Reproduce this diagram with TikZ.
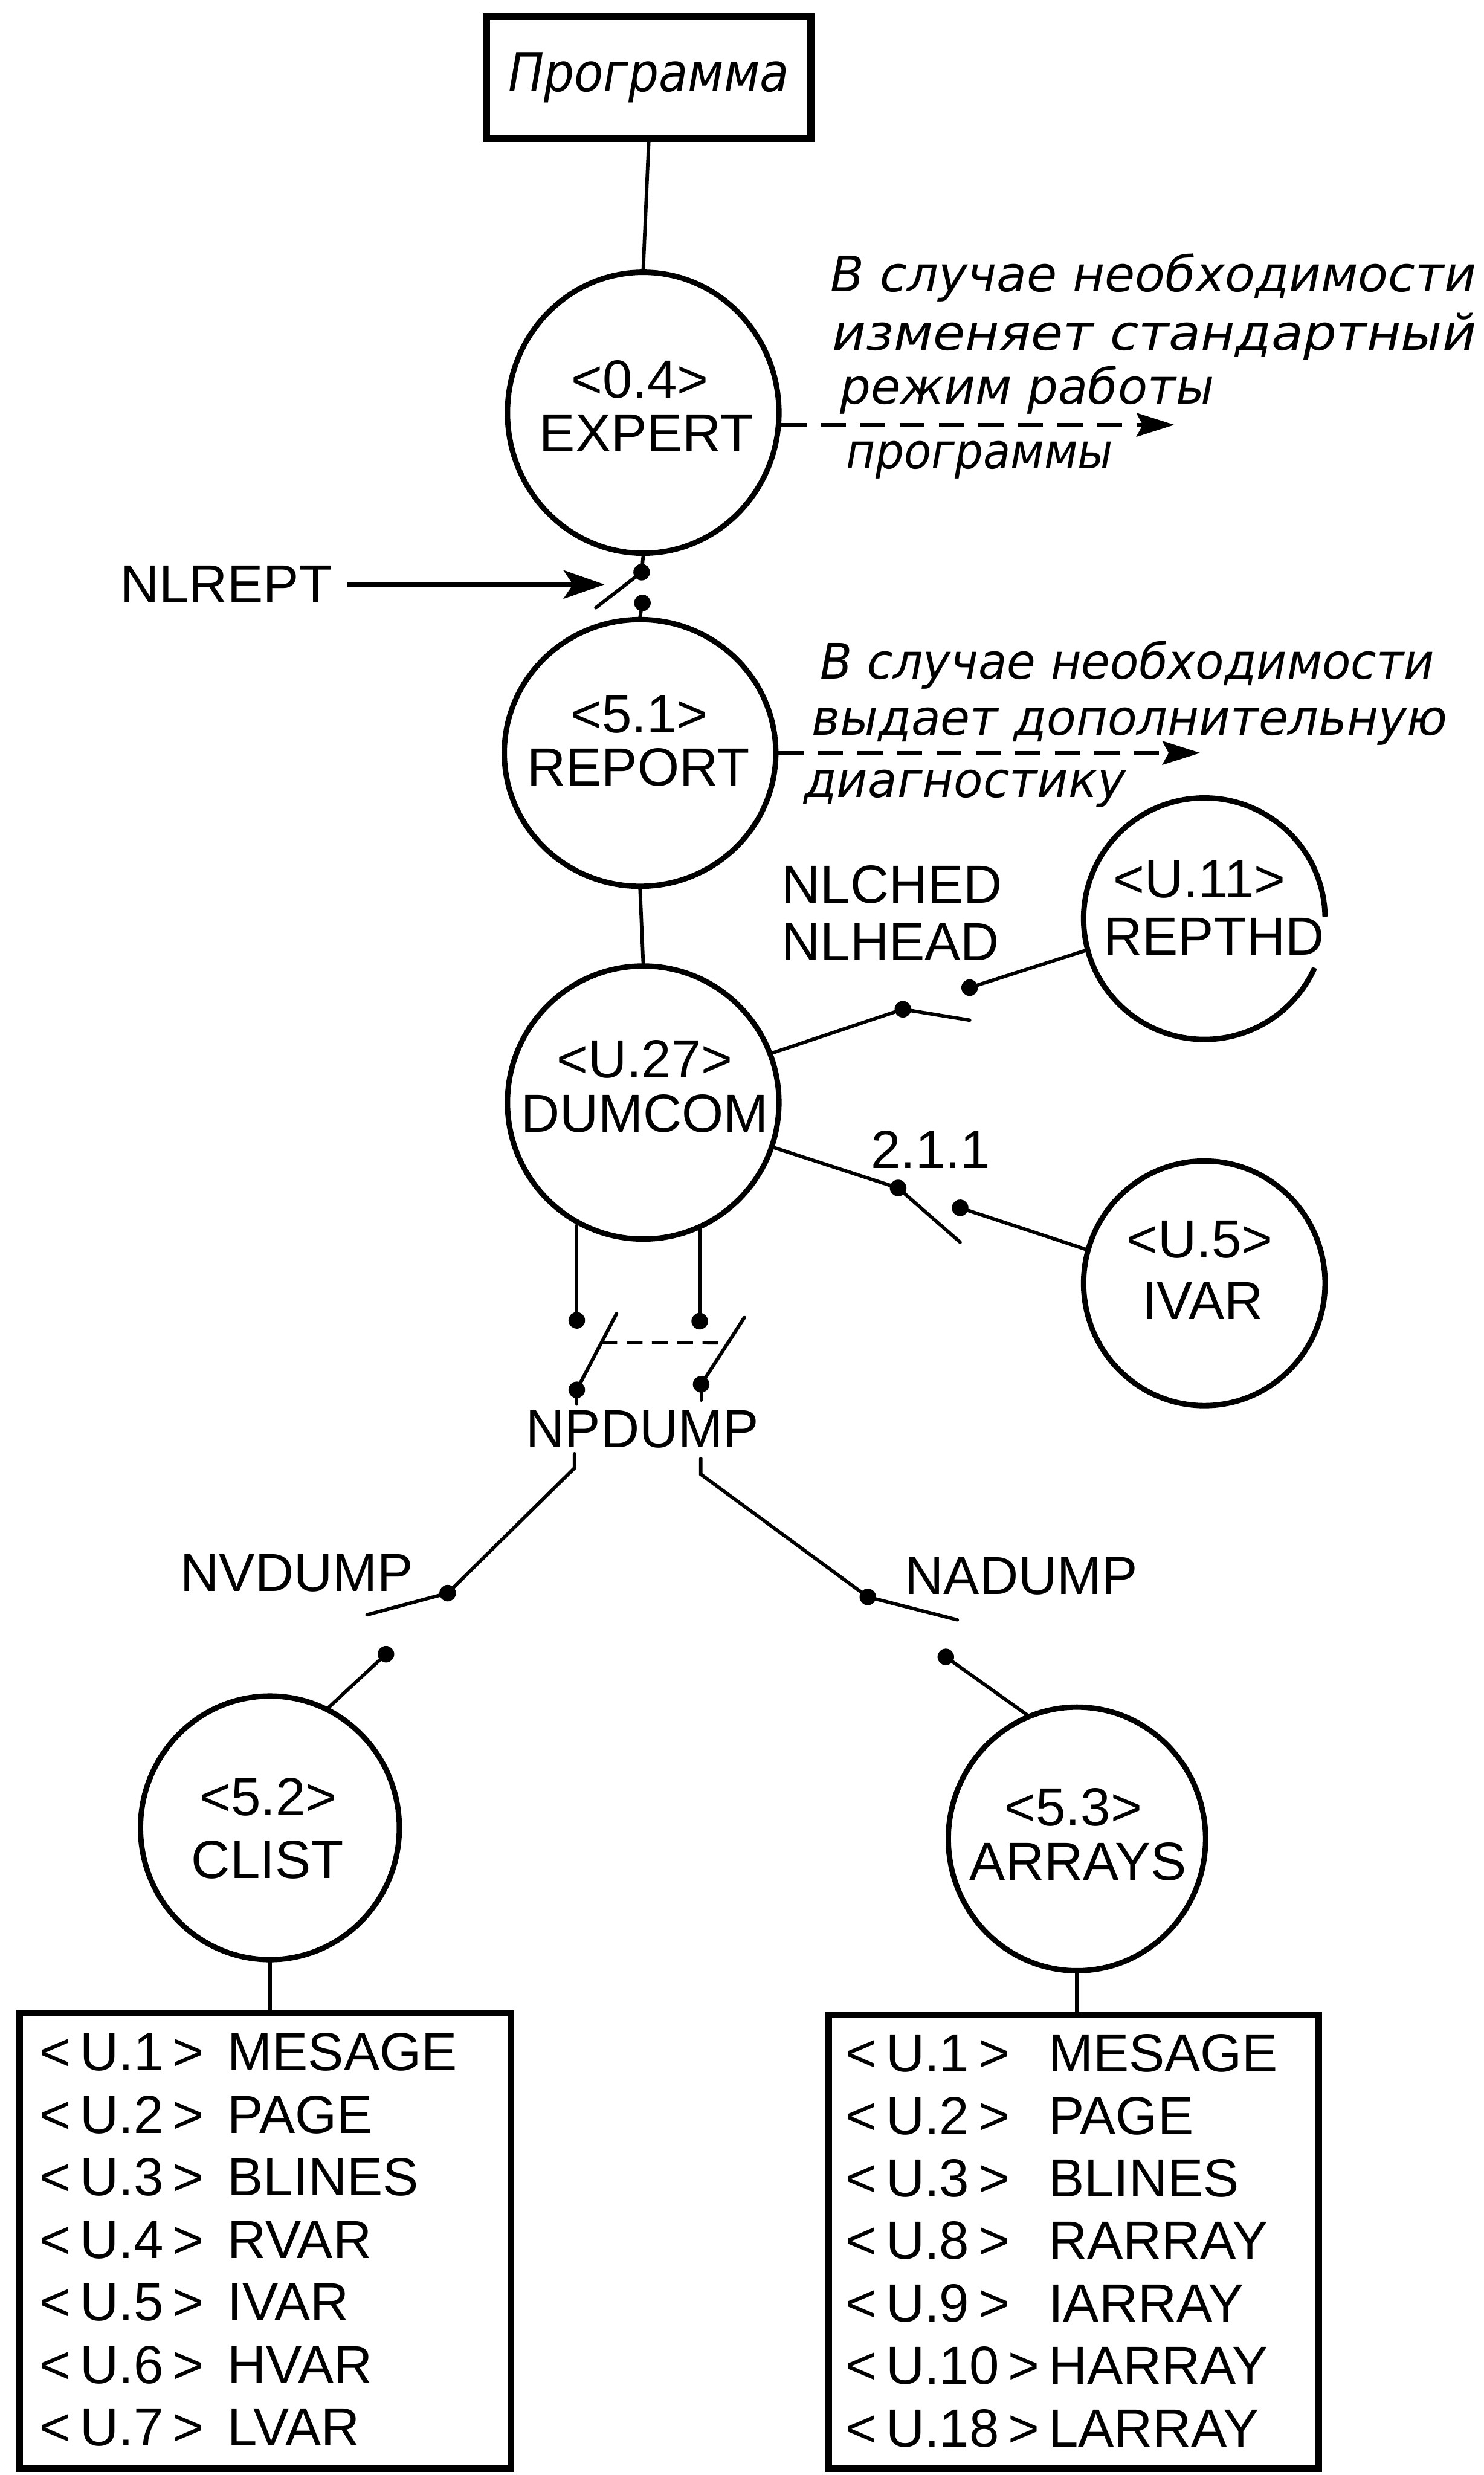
\documentclass[tikz,border=0pt]{standalone}
\usepackage{graphicx}
\usepackage{fontspec}
\setmainfont{Liberation Sans}
\newfontfamily\handfont{DejaVu Sans}
\usetikzlibrary{shapes.geometric,arrows.meta,calc}

\begin{document}
\begin{tikzpicture}[x=1pt,y=-1pt,
  wire/.style={line width=2.2pt, line cap=round},
  proc/.style={ellipse, draw, line width=3.4pt, inner sep=0pt},
  ring/.style={line width=3.4pt},
  frame/.style={rectangle, draw, line width=4pt, inner sep=0pt},
  dot/.style={circle, fill, inner sep=0pt, minimum size=10.5pt},
  lbl/.style={font=\fontsize{34}{40}\selectfont, inner sep=0pt},
  hand/.style={font=\handfont\itshape\fontsize{31}{36}\selectfont, inner sep=0pt, anchor=base west},
  darrow/.style={line width=2.2pt, dash pattern=on 16pt off 9pt, -{Stealth[length=24pt,width=15pt,inset=4pt]}},
  sarrow/.style={line width=2.6pt, -{Stealth[length=26pt,width=18pt,inset=6pt]}},
  gang/.style={line width=2pt, dash pattern=on 10pt off 6pt},
]
\fill[white] (0,0) rectangle (940,1568);
\useasboundingbox (0,0) rectangle (940,1568);

% ---------- main program box ----------
\node[frame, line width=4.5pt, minimum width=205.5pt, minimum height=77.5pt] (prog) at (411,49)
  {\handfont\itshape\fontsize{34}{40}\selectfont\resizebox{178pt}{\height}{Программа}};

% ---------- processes ----------
\node[proc, minimum width=172pt, minimum height=178pt] (expert) at (407.5,261.5) {};
\node[lbl, anchor=base] (expertid) at (405.3,252) {<0.4>};
\node[lbl, anchor=base] (expertnm) at (409.5,286) {EXPERT};

\node[proc, minimum width=172pt, minimum height=169pt] (report) at (405.5,477) {};
\node[lbl, anchor=base] (reportid) at (405,464) {<5.1>};
\node[lbl, anchor=base] (reportnm) at (404.5,498) {REPORT};

\node[proc, minimum width=172pt, minimum height=173pt] (dumcom) at (407.5,698.5) {};
\node[lbl, anchor=base] (dumcomid) at (408.4,682.6) {<U.27>};
\node[lbl, anchor=base] (dumcomnm) at (408.5,717) {DUMCOM};

% REPTHD: circle with a break on its right side
\node[ellipse, line width=3.4pt, inner sep=0pt, minimum width=153pt, minimum height=153pt] (repthd) at (763,582) {};
\draw[ring] ([shift={(1:76.5pt)}]repthd.center) arc[start angle=1, end angle=336, radius=76.5pt];
\node[lbl, anchor=base] (repthdid) at (760,568.5) {<U.11>};
\node[lbl, anchor=base] (repthdnm) at (769,605) {REPTHD};

\node[proc, minimum width=153pt, minimum height=155pt] (ivar) at (763,813) {};
\node[lbl, anchor=base] (ivarid) at (760,797) {<U.5>};
\node[lbl, anchor=base] (ivarnm) at (762,836) {IVAR};

\node[proc, minimum width=164pt, minimum height=167pt] (clist) at (171,1158) {};
\node[lbl, anchor=base] (clistid) at (170,1150) {<5.2>};
\node[lbl, anchor=base] (clistnm) at (169.5,1190) {CLIST};

\node[proc, minimum width=163pt, minimum height=167pt] (arrays) at (682.3,1165) {};
\node[lbl, anchor=base] (arraysid) at (680,1156.7) {<5.3>};
\node[lbl, anchor=base] (arraysnm) at (683,1191) {ARRAYS};

% ---------- program -> EXPERT ----------
\draw[wire] (prog.south) -- (expert.north);

% ---------- EXPERT comment ----------
\coordinate (etip) at (744,268.4);
\draw[darrow] (expert.-5) -- (expert.-5 -| etip);
\node[hand] (exptxt1) at (526,184.6) {\resizebox{409pt}{\height}{В случае необходимости}};
\node[hand] (exptxt2) at (527,221.7) {\resizebox{408pt}{\height}{изменяет стандартный}};
\node[hand] (exptxt3) at (532,256) {\resizebox{237pt}{\height}{режим работы}};
\node[hand] (exptxt4) at (536,297) {\resizebox{169pt}{\height}{программы}};

% ---------- NLREPT switch ----------
\node[dot] (e1) at (406.5,362.5) {};
\node[dot] (e2) at (407,382) {};
\coordinate (e1lev) at (377.5,385);
\draw[wire] (expert.south) -- (e1);
\draw[wire] (e1.center) -- (e1lev);
\draw[wire] (e2) -- (report.north);
\node[lbl, anchor=base west] (nlrept) at (76,382) {NLREPT};
\coordinate (nltip) at (383,369.6);
\draw[sarrow] ([xshift=9pt]nlrept.east) -- (nlrept.east -| nltip);

% ---------- REPORT comment ----------
\coordinate (rtip) at (760.4,476.3);
\draw[darrow] (report.east) -- (report.east -| rtip);
\node[hand] (reptxt1) at (519.6,430) {\resizebox{389pt}{\height}{В случае необходимости}};
\node[hand] (reptxt2) at (514,465.5) {\resizebox{403pt}{\height}{выдает дополнительную}};
\node[hand] (reptxt3) at (509,505) {\resizebox{204pt}{\height}{диагностику}};

\draw[wire] (report.south) -- (dumcom.north);

% ---------- DUMCOM -> REPTHD switch ----------
\node[lbl, anchor=base west] (nlched) at (495,572) {NLCHED};
\node[lbl, anchor=base west] (nlhead) at (495,608.5) {NLHEAD};
\node[dot] (h1) at (572,639.4) {};
\node[dot] (h2) at (614.3,625.7) {};
\coordinate (h1lev) at (614.3,646.3);
\draw[wire] (dumcom.21) -- (h1);
\draw[wire] (h1.center) -- (h1lev);
\draw[wire] (h2) -- (repthd.195);

% ---------- DUMCOM -> IVAR switch ----------
\node[lbl, anchor=base] (sec211) at (589.5,740) {2.1.1};
\node[dot] (i1) at (569,752.6) {};
\node[dot] (i2) at (608.3,765.2) {};
\coordinate (i1lev) at (608.3,787);
\draw[wire] (dumcom.-19) -- (i1);
\draw[wire] (i1.center) -- (i1lev);
\draw[wire] (i2) -- (ivar.164);

% ---------- NPDUMP double switch ----------
\node[dot] (p1) at (365.4,836.5) {};
\node[dot] (p2) at (443.3,837) {};
\node[dot] (q1) at (365.4,880.5) {};
\node[dot] (q2) at (444.2,877) {};
\coordinate (q1lev) at (390.6,832.3);
\coordinate (q2lev) at (471.6,834.7);
\draw[wire] (p1) -- (p1 |- dumcom.242);
\draw[wire] (p2) -- (p2 |- dumcom.295);
\draw[wire] (q1.center) -- (q1lev);
\draw[wire] (q2.center) -- (q2lev);
\draw[gang] ($(q1)!0.62!(q1lev)$) -- ($(q2)!0.62!(q2lev)$);
\draw[wire] (q1.center) -- ++(0,9);
\draw[wire] (q2.center) -- ++(0,10);
\node[lbl, anchor=base] (npdump) at (407,917) {NPDUMP};

% ---------- NVDUMP / NADUMP branches ----------
\coordinate (n1) at (364,921);
\coordinate (n1b) at (364,930);
\coordinate (n2) at (444,924);
\coordinate (n2b) at (444,934);
\node[dot] (v1) at (283.6,1009.3) {};
\node[dot] (v2) at (244.5,1048) {};
\coordinate (v1lev) at (232.5,1023);
\node[dot] (a1) at (549.8,1011.7) {};
\node[dot] (a2) at (599.2,1049.7) {};
\coordinate (a1lev) at (606.5,1026.2);
\draw[wire] (n1) -- (n1b) -- (v1.center);
\draw[wire] (n2) -- (n2b) -- (a1.center);
\draw[wire] (v1.center) -- (v1lev);
\draw[wire] (a1.center) -- (a1lev);
\draw[wire] (v2) -- (clist.64);
\draw[wire] (a2) -- (arrays.112);
\node[lbl, anchor=base] (nvdump) at (188,1008) {NVDUMP};
\node[lbl, anchor=base] (nadump) at (647,1010) {NADUMP};

% ---------- utility lists ----------
\node[frame, minimum width=311pt, minimum height=288.6pt] (lbox) at (168,1419.7) {};
\node[frame, minimum width=310.4pt, minimum height=287.6pt] (rbox) at (680.2,1420.2) {};
\draw[wire] (clist.south) -- (clist.south |- lbox.north);
\draw[wire] (arrays.south) -- (arrays.south |- rbox.north);

\foreach \id/\nm [count=\k from 0] in {1/MESAGE,2/PAGE,3/BLINES,4/RVAR,5/IVAR,6/HVAR,7/LVAR}{
  \node[lbl, anchor=base west] (lid\id) at (25,1311.8+39.6*\k) {<\,U.\id\,>};
  \node[lbl, anchor=base west] (lnm\id) at (144,1311.8+39.6*\k) {\nm};
}
\foreach \id/\nm [count=\k from 0] in {1/MESAGE,2/PAGE,3/BLINES,8/RARRAY,9/IARRAY,10/HARRAY,18/LARRAY}{
  \node[lbl, anchor=base west] (rid\id) at (535.5,1312.5+39.6*\k) {<\,U.\id\,>};
  \node[lbl, anchor=base west] (rnm\id) at (664,1312.5+39.6*\k) {\nm};
}
\end{tikzpicture}
\end{document}
